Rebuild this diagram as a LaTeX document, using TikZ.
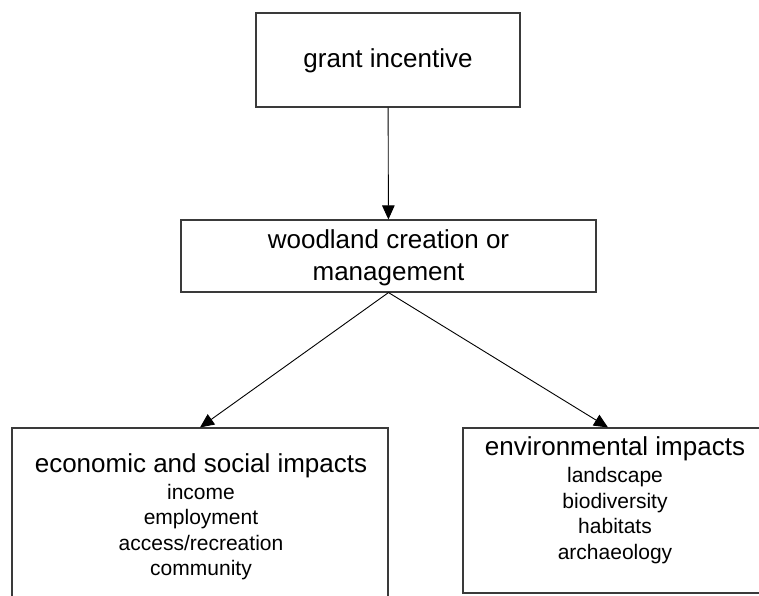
\documentclass[tikz,border=0pt]{standalone}
\usepackage{fontspec}
\setmainfont{Liberation Sans}
\usetikzlibrary{arrows.meta,positioning}
\definecolor{Linea}{HTML}{3A3A3A}

\begin{document}
\begin{tikzpicture}[x=1pt,y=-1pt,
    marco/.style={draw=Linea,line width=1.1pt,fill=white,inner sep=0pt},
    titulo/.style={font=\fontsize{26}{32}\selectfont,align=center,inner sep=0pt},
    lista/.style={font=\fontsize{21}{25.5}\selectfont,align=center,inner sep=0pt},
    flecha/.style={-{Triangle[length=14pt,width=12.5pt]},line width=0.9pt,draw=black}]
    \useasboundingbox (0,0) rectangle (759,595);
    \clip (0,0) rectangle (759,595);
    % cajas
    \node[marco,minimum width=264pt,minimum height=94pt] (grant) at (388,60) {};
    \node[marco,minimum width=415pt,minimum height=72pt] (woodland) at (388.5,256) {};
    \node[marco,minimum width=376pt,minimum height=200pt] (econ) at (200,528) {};
    \node[marco,minimum width=304pt,minimum height=165pt] (env) at (615,510.5) {};
    % textos
    \node[titulo] (granttxt) at (388,61) {grant incentive};
    \node[titulo] (woodtxt) at (388.5,258) {woodland creation or\\management};
    \node[titulo] (econtxt) at (201,466) {economic and social impacts};
    \node[lista] (econlist) at (201,532) {income\\employment\\access/recreation\\community};
    \node[titulo] (envtxt) at (615,449) {environmental impacts};
    \node[lista] (envlist) at (615,515.5) {landscape\\biodiversity\\habitats\\archaeology};
    % flechas
    \draw[flecha] (grant) -- (woodland);
    \draw[flecha] (woodland.south) -- (econ.north);
    \draw[flecha] (woodland.south) -- ([xshift=-7pt]env.north);
\end{tikzpicture}
\end{document}
